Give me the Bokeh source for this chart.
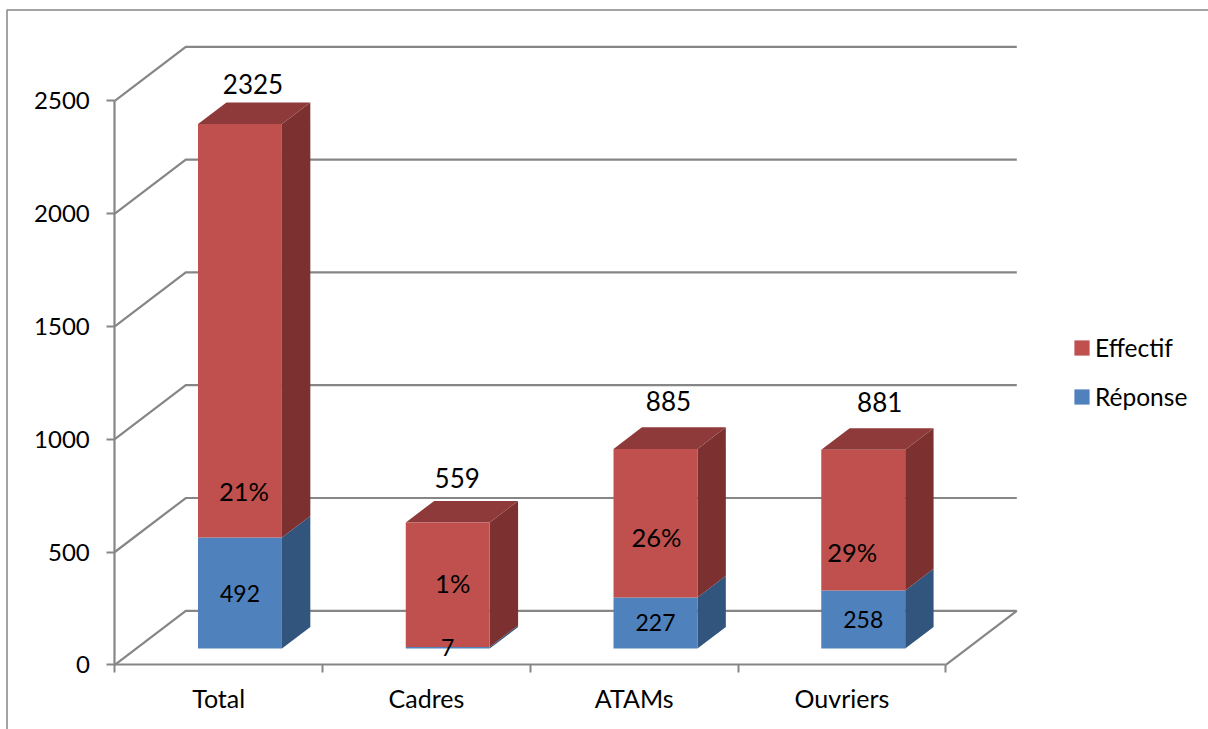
from bokeh.plotting import figure
from bokeh.models import Range1d, FixedTicker, BoxAnnotation, Legend, LegendItem
from bokeh.embed import file_html
from bokeh.resources import INLINE
from bokeh.core.properties import value

categories = ["Total", "Cadres", "ATAMs", "Ouvriers"]
totals = [2325, 559, 885, 881]
reponse = [492, 7, 227, 258]
percents = ["21%", "1%", "26%", "29%"]
y_ticks = [0, 500, 1000, 1500, 2000, 2500]

# hand-moved label offsets in the source chart (screen pixels)
total_dx, total_dy = [13, 9.5, 13, 16.5], [-40, -44, -48, -48]
pct_dx, pct_dy = [4, 5, 1, -11], [-47, -64, -60, -38]

W, H = 1208, 729
PX_X, PX_Y = 207.75, 0.2256     # pixels per category, pixels per unit
X0, Y0 = 114.3, 664.3           # pixel position of the axes' origin
DX, DY = 71 / PX_X, 54 / PX_Y   # depth of the 3D box, in data units
BAR_W = 0.404
FONT = value("Lato")
GREY = "#868686"
BLUE, BLUE_SIDE = "#4F81BD", "#31557C"
RED, RED_SIDE, RED_TOP = "#C0504D", "#7C3130", "#8F3A3A"

p = figure(width=W, height=H, output_backend="svg", toolbar_location=None,
           x_range=Range1d(-X0 / PX_X, (W - X0) / PX_X),
           y_range=Range1d((Y0 - H) / PX_Y, Y0 / PX_Y),
           min_border=0, margin=0,
           styles={"position": "absolute", "left": "0px", "top": "0px"},
           outline_line_color=None, background_fill_color="white", border_fill_color="white")
p.grid.visible = False

# outer chart border (screen y of this annotation counts from the bottom)
p.add_layout(BoxAnnotation(left=6.5, top=H - 9.5, right=W + 50, bottom=-50,
                           left_units="screen", top_units="screen",
                           right_units="screen", bottom_units="screen",
                           fill_alpha=0, line_color=GREY, line_width=1.5, line_alpha=1))

# axes
n = len(categories)
xa, ya = p.xaxis[0], p.yaxis[0]
xa.fixed_location = 0
ya.fixed_location = 0
xa.bounds = (0, n)
ya.bounds = (0, y_ticks[-1])
xa.ticker = FixedTicker(ticks=[i + 0.5 for i in range(n)], minor_ticks=list(range(n + 1)))
xa.major_label_overrides = {i + 0.5: c for i, c in enumerate(categories)}
ya.ticker = FixedTicker(ticks=y_ticks)
for a in (xa, ya):
    a.axis_line_color = GREY
    a.axis_line_width = 2.2
    a.major_tick_line_color = GREY
    a.major_tick_line_width = 2
    a.minor_tick_line_color = GREY
    a.minor_tick_line_width = 2
    a.major_tick_in = 0
    a.minor_tick_in = 0
    a.major_label_text_font = "Lato"
    a.major_label_text_color = "black"
xa.major_tick_out = 0
xa.minor_tick_out = 8
xa.major_label_standoff = 10
xa.major_label_text_font_size = "25px"
ya.major_tick_out = 8
ya.minor_tick_out = 0
ya.major_label_standoff = 17
ya.major_label_text_font_size = "24px"

# wall and floor lines
wx, wy = [], []
for v in y_ticks:
    wx.append([0, DX, n + DX])
    wy.append([v, v + DY, v + DY])
wx.append([n, n + DX])
wy.append([0, DY])
p.multi_line(wx, wy, line_color=GREY, line_width=2.2, line_join="miter")


def left(i):
    return i + 0.5 + 0.3 * DX - BAR_W / 2


def right(i):
    return left(i) + BAR_W


def side(i, lo, hi):
    r = right(i)
    return ([r, r + 0.4 * DX, r + 0.4 * DX, r],
            [lo + 0.3 * DY, lo + 0.7 * DY, hi + 0.7 * DY, hi + 0.3 * DY])


def top(i, v):
    l, r = left(i), right(i)
    return ([l, r, r + 0.4 * DX, l + 0.4 * DX],
            [v + 0.3 * DY, v + 0.3 * DY, v + 0.7 * DY, v + 0.7 * DY])


blue_sides = [side(i, 0, reponse[i]) for i in range(n)]
red_sides = [side(i, reponse[i], totals[i]) for i in range(n)]
red_tops = [top(i, totals[i]) for i in range(n)]

p.patches([s[0] for s in blue_sides], [s[1] for s in blue_sides], fill_color=BLUE_SIDE, line_color=None)
p.patches([s[0] for s in red_sides], [s[1] for s in red_sides], fill_color=RED_SIDE, line_color=None)
p.patches([s[0] for s in red_tops], [s[1] for s in red_tops], fill_color=RED_TOP, line_color=None)

base = [0.3 * DY] * n
r_blue = p.quad(left=[left(i) for i in range(n)], right=[right(i) for i in range(n)],
                bottom=base, top=[v + 0.3 * DY for v in reponse],
                fill_color=BLUE, line_color=None)
r_red = p.quad(left=[left(i) for i in range(n)], right=[right(i) for i in range(n)],
               bottom=[v + 0.3 * DY for v in reponse], top=[v + 0.3 * DY for v in totals],
               fill_color=RED, line_color=None)

# data labels
cx = [i + 0.5 + 0.3 * DX for i in range(n)]
p.text(cx, [v / 2 + 0.3 * DY for v in reponse], text=[str(v) for v in reponse],
       text_align="center", text_baseline="middle", text_font=FONT, text_font_size="23px", text_color="black")
p.text(cx, [v + 0.3 * DY for v in reponse], text=percents,
       x_offset=pct_dx, y_offset=pct_dy,
       text_align="center", text_baseline="middle", text_font=FONT, text_font_size="25.5px", text_color="black")
p.text(cx, [v + 0.3 * DY for v in totals], text=[str(v) for v in totals],
       x_offset=total_dx, y_offset=total_dy,
       text_align="center", text_baseline="middle", text_font=FONT, text_font_size="26px", text_color="black")

# legend
legend = Legend(items=[LegendItem(label="Effectif", renderers=[r_red]),
                       LegendItem(label="Réponse", renderers=[r_blue])],
                location=(1072, H - 411), orientation="vertical",
                background_fill_alpha=0, border_line_color=None,
                padding=0, margin=0, spacing=20,
                glyph_width=19, glyph_height=19, label_height=15, label_width=100,
                label_standoff=4, label_text_font="Lato", label_text_font_size="24.5px",
                label_text_color="black", label_text_baseline="middle")
p.add_layout(legend, "center")

open("out.html", "w").write(file_html(p, INLINE))
